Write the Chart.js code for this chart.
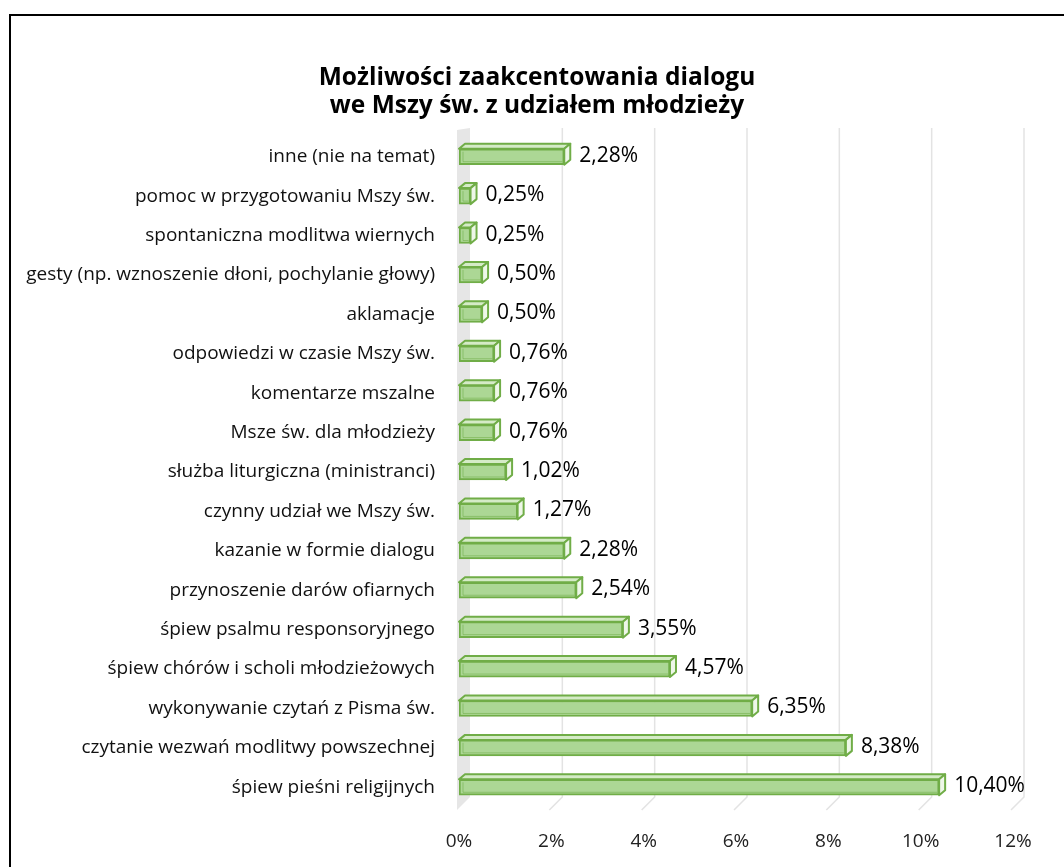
<!DOCTYPE html>
<html>
<head>
<meta charset="utf-8">
<script src="https://cdn.jsdelivr.net/npm/chart.js@4"></script>
<style>
  html, body { margin: 0; padding: 0; background: #fff; }
  #wrap { width: 1064px; height: 867px; position: relative; }
</style>
</head>
<body>
<div id="wrap"><canvas id="chart" width="1064" height="867"></canvas></div>
<script>
const categories = [
  'inne (nie na temat)',
  'pomoc w przygotowaniu Mszy św.',
  'spontaniczna modlitwa wiernych',
  'gesty (np. wznoszenie dłoni, pochylanie głowy)',
  'aklamacje',
  'odpowiedzi w czasie Mszy św.',
  'komentarze mszalne',
  'Msze św. dla młodzieży',
  'służba liturgiczna (ministranci)',
  'czynny udział we Mszy św.',
  'kazanie w formie dialogu',
  'przynoszenie darów ofiarnych',
  'śpiew psalmu responsoryjnego',
  'śpiew chórów i scholi młodzieżowych',
  'wykonywanie czytań z Pisma św.',
  'czytanie wezwań modlitwy powszechnej',
  'śpiew pieśni religijnych'
];
const percents = [2.28, 0.25, 0.25, 0.50, 0.50, 0.76, 0.76, 0.76, 1.02, 1.27, 2.28, 2.54, 3.55, 4.57, 6.35, 8.38, 10.40];
const titleLines = ['Możliwości zaakcentowania dialogu', 'we Mszy św. z udziałem młodzieży'];
const axisMax = 12;
const axisStep = 2;

const FONT = '"Open Sans", "Noto Sans", sans-serif';

// frame, white background and the two-line title
const framePlugin = {
  id: 'frame',
  beforeDraw(chart) {
    const ctx = chart.ctx;
    ctx.save();
    ctx.fillStyle = '#fff';
    ctx.fillRect(0, 0, chart.width, chart.height);
    ctx.strokeStyle = '#000';
    ctx.lineWidth = 2;
    ctx.strokeRect(10, 15, chart.width + 20, chart.height + 20);
    ctx.restore();
  },
  afterDraw(chart) {
    const ctx = chart.ctx;
    ctx.save();
    ctx.fillStyle = '#000';
    ctx.font = 'bold 24.5px ' + FONT;
    ctx.textAlign = 'center';
    ctx.textBaseline = 'middle';
    titleLines.forEach((line, i) => ctx.fillText(line, 537, 78 + i * 28));
    ctx.restore();
  }
};

// fake 3D walls, grid lines and bar faces (Excel-like)
const wallPlugin = {
  id: 'walls',
  beforeDatasetsDraw(chart) {
    const ctx = chart.ctx;
    const area = chart.chartArea;
    const xs = chart.scales.x;
    const d = 13;
    const top = area.top - 9, bottom = area.bottom + 3;
    const x0 = xs.getPixelForValue(0) - 2;
    ctx.save();
    // left side wall
    ctx.fillStyle = '#e6e6e6';
    ctx.beginPath();
    ctx.moveTo(x0, top + 2);
    ctx.lineTo(x0 + d, top);
    ctx.lineTo(x0 + d, bottom - d);
    ctx.lineTo(x0, bottom);
    ctx.closePath();
    ctx.fill();
    // grid lines on back wall + floor
    ctx.strokeStyle = '#e3e3e3';
    ctx.lineWidth = 1.5;
    for (let v = axisStep; v <= axisMax; v += axisStep) {
      const x = xs.getPixelForValue(v) - 2;
      ctx.beginPath();
      ctx.moveTo(x + d, top);
      ctx.lineTo(x + d, bottom - d);
      ctx.lineTo(x, bottom);
      ctx.stroke();
    }
    ctx.restore();
  },
  afterDatasetsDraw(chart) {
    const ctx = chart.ctx;
    const meta = chart.getDatasetMeta(0);
    const dx = 6, dy = 5;
    ctx.save();
    ctx.lineJoin = 'round';
    meta.data.forEach((bar, i) => {
      const p = bar.getProps(['x', 'y', 'base', 'height'], true);
      const left = p.base, right = p.x;
      const t = p.y - p.height / 2, b = p.y + p.height / 2;
      ctx.strokeStyle = '#70ad47';
      ctx.lineWidth = 2;
      // top face
      ctx.fillStyle = '#d5ebc7';
      ctx.beginPath();
      ctx.moveTo(left, t);
      ctx.lineTo(left + dx, t - dy);
      ctx.lineTo(right + dx, t - dy);
      ctx.lineTo(right, t);
      ctx.closePath();
      ctx.fill();
      ctx.stroke();
      // side face
      ctx.fillStyle = '#eef7e8';
      ctx.beginPath();
      ctx.moveTo(right, t);
      ctx.lineTo(right + dx, t - dy);
      ctx.lineTo(right + dx, b - dy);
      ctx.lineTo(right, b);
      ctx.closePath();
      ctx.fill();
      ctx.stroke();
      // inner highlight on front face
      ctx.strokeStyle = 'rgba(112,173,71,0.55)';
      ctx.lineWidth = 1;
      ctx.beginPath();
      ctx.moveTo(left + 4, t + 3);
      ctx.lineTo(left + 4, b - 3);
      ctx.lineTo(right - 2, b - 3);
      ctx.stroke();
      // value label
      ctx.fillStyle = '#000';
      ctx.font = '21px ' + FONT;
      ctx.textAlign = 'left';
      ctx.textBaseline = 'middle';
      ctx.fillText(percents[i].toFixed(2).replace('.', ',') + '%', right + dx + 9, p.y - 1);
    });
    ctx.restore();
  }
};

const ctx = document.getElementById('chart').getContext('2d');
const chart = new Chart(ctx, {
  type: 'bar',
  data: {
    labels: categories,
    datasets: [{
      data: percents,
      backgroundColor: '#acd795',
      borderColor: '#70ad47',
      borderWidth: 2,
      borderSkipped: false,
      barThickness: 16,
      categoryPercentage: 1
    }]
  },
  options: {
    indexAxis: 'y',
    responsive: false,
    animation: false,
    layout: { padding: { left: 0, right: 51, top: 137, bottom: 0 } },
    plugins: {
      legend: { display: false },
      tooltip: { enabled: false },
      title: { display: false }
    },
    scales: {
      x: {
        min: 0,
        max: axisMax,
        grid: { display: false },
        border: { display: false },
        afterFit(s) { s.height = 60; },
        ticks: {
          stepSize: axisStep,
          color: '#222',
          padding: 15,
          font: { family: FONT, size: 19 },
          callback: v => v + '%'
        }
      },
      y: {
        grid: { display: false },
        border: { display: false },
        afterFit(s) { s.width = 459; },
        ticks: {
          color: '#111',
          padding: 16,
          autoSkip: false,
          font: { family: FONT, size: 19 }
        }
      }
    }
  },
  plugins: [framePlugin, wallPlugin]
});
</script>
</body>
</html>
